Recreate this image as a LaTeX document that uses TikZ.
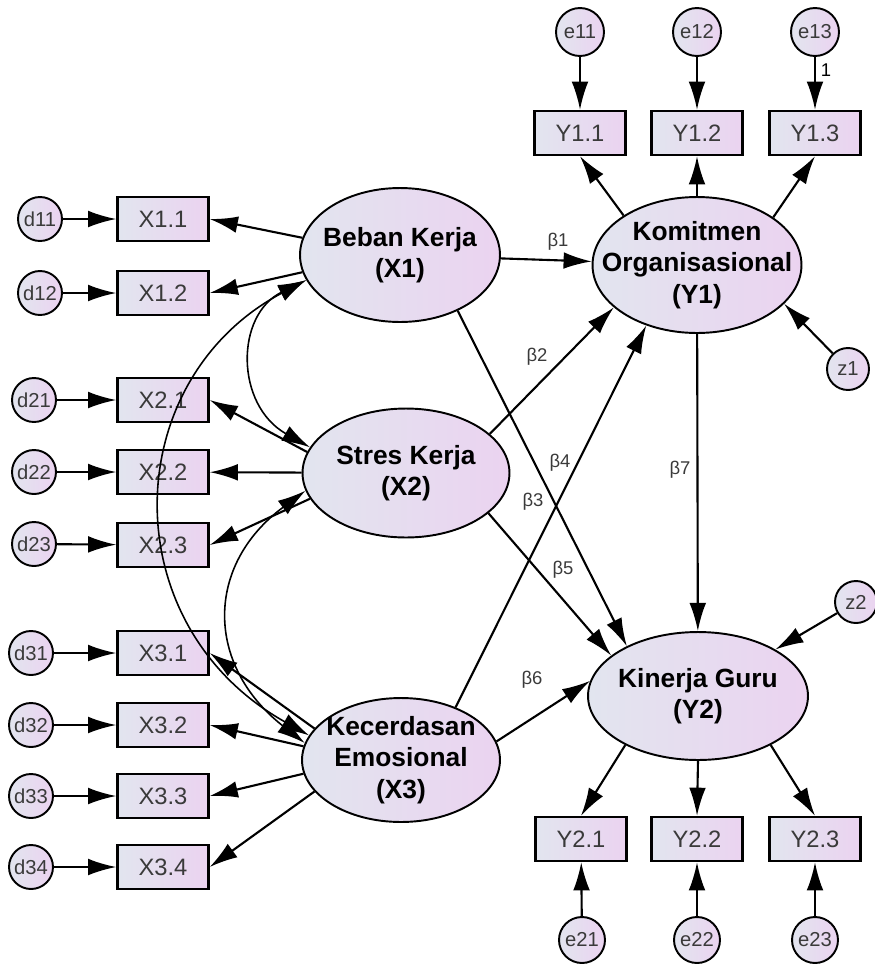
\documentclass[tikz,border=0pt]{standalone}
\usepackage{fontspec}
\setmainfont{Liberation Sans}
\usetikzlibrary{arrows.meta}
\usetikzlibrary{shapes.geometric}
\definecolor{fillleft}{HTML}{E2E5EF}
\definecolor{fillright}{HTML}{EBD3F0}
\definecolor{textgray}{HTML}{3A3A3A}

\begin{document}
\begin{tikzpicture}[x=0.02cm, y=0.02cm,
    obs/.style={draw, line width=1.4pt, left color=fillleft, right color=fillright, minimum width=1.82cm, minimum height=0.88cm, inner sep=0pt, text=textgray, font=\fontsize{13.5}{15}\selectfont},
    lat/.style={draw, ellipse, line width=1.1pt, left color=fillleft, right color=fillright, inner sep=0pt},
    latlab/.style={align=center, inner sep=0pt, font=\fontsize{15}{18}\selectfont\bfseries},
    err/.style={draw, circle, line width=1.1pt, left color=fillleft, right color=fillright, inner sep=0pt, text=textgray, font=\fontsize{11.5}{12}\selectfont},
    reg/.style={-{Latex[length=16pt,width=9.5pt]}, line width=1.2pt},
    cov/.style={{Latex[length=16pt,width=9.5pt]}-{Latex[length=16pt,width=9.5pt]}, line width=0.9pt},
    beta/.style={inner sep=0pt, text=textgray, font=\fontsize{10.5}{11}\selectfont}]

    \useasboundingbox (0,0) rectangle (875,-968);

    \node[lat, minimum width=4cm, minimum height=2.68cm, label={[latlab]center:Beban Kerja\\(X1)}] (X1) at (400,-255) {};
    \node[lat, minimum width=4.14cm, minimum height=2.58cm, label={[latlab]center:Stres Kerja\\(X2)}] (X2) at (406,-473) {};
    \node[lat, minimum width=3.96cm, minimum height=2.48cm, label={[latlab]center:Kecerdasan\\Emosional\\(X3)}] (X3) at (401,-760) {};
    \node[lat, minimum width=4.18cm, minimum height=2.72cm, label={[latlab]center:Komitmen\\Organisasional\\(Y1)}] (Y1) at (697,-265) {};
    \node[lat, minimum width=4.4cm, minimum height=2.56cm, label={[latlab]center:Kinerja Guru\\(Y2)}] (Y2) at (698,-696) {};

    \node[obs] (x11) at (163,-219) {X1.1};
    \node[obs] (x12) at (163,-293) {X1.2};
    \node[obs] (x21) at (163,-400) {X2.1};
    \node[obs] (x22) at (163,-472) {X2.2};
    \node[obs] (x23) at (163,-545) {X2.3};
    \node[obs] (x31) at (163,-653) {X3.1};
    \node[obs] (x32) at (163,-725) {X3.2};
    \node[obs] (x33) at (163,-796) {X3.3};
    \node[obs] (x34) at (163,-867) {X3.4};
    \node[obs] (y11) at (580,-133) {Y1.1};
    \node[obs] (y12) at (697,-133) {Y1.2};
    \node[obs] (y13) at (815,-133) {Y1.3};
    \node[obs] (y21) at (581,-839) {Y2.1};
    \node[obs] (y22) at (697,-839) {Y2.2};
    \node[obs] (y23) at (815,-839) {Y2.3};

    \node[err, minimum size=0.88cm] (d11) at (40,-219) {d11};
    \node[err, minimum size=0.88cm] (d12) at (40,-293) {d12};
    \node[err, minimum size=0.88cm] (d21) at (34,-400) {d21};
    \node[err, minimum size=0.88cm] (d22) at (34,-472) {d22};
    \node[err, minimum size=0.88cm] (d23) at (34,-544) {d23};
    \node[err, minimum size=0.88cm] (d31) at (31,-653) {d31};
    \node[err, minimum size=0.88cm] (d32) at (31,-725) {d32};
    \node[err, minimum size=0.88cm] (d33) at (31,-796) {d33};
    \node[err, minimum size=0.88cm] (d34) at (31,-867) {d34};
    \node[err, minimum size=0.96cm] (e11) at (580,-32) {e11};
    \node[err, minimum size=0.96cm] (e12) at (697,-32) {e12};
    \node[err, minimum size=0.96cm] (e13) at (815,-32) {e13};
    \node[err, minimum size=0.92cm] (e21) at (582,-940) {e21};
    \node[err, minimum size=0.92cm] (e22) at (697,-940) {e22};
    \node[err, minimum size=0.92cm] (e23) at (815,-940) {e23};
    \node[err, minimum size=0.84cm] (z1) at (848,-369) {z1};
    \node[err, minimum size=0.84cm] (z2) at (856,-602) {z2};

    \node[beta] (b1) at (558,-242) {β1};
    \node[beta] (b2) at (537,-357) {β2};
    \node[beta] (b3) at (533,-502) {β3};
    \node[beta] (b4) at (560,-463) {β4};
    \node[beta] (b5) at (563,-570) {β5};
    \node[beta] (b6) at (532,-680) {β6};
    \node[beta] (b7) at (680,-470) {β7};
    \node[beta, text=black] (one) at (826,-70) {1};

    \draw[reg] (d11) -- (x11);
    \draw[reg] (d12) -- (x12);
    \draw[reg] (d21) -- (x21);
    \draw[reg] (d22) -- (x22);
    \draw[reg] (d23) -- (x23);
    \draw[reg] (d31) -- (x31);
    \draw[reg] (d32) -- (x32);
    \draw[reg] (d33) -- (x33);
    \draw[reg] (d34) -- (x34);

    \draw[reg] (X1.170) -- (x11.east);
    \draw[reg] (X1.190) -- (x12.east);
    \draw[reg] (X2.168) -- (x21.east);
    \draw[reg] (X2) -- (x22);
    \draw[reg] (X2.195) -- (x23.east);
    \draw[reg] (X3.160) -- (x31.east);
    \draw[reg] (X3.172) -- (x32.east);
    \draw[reg] (X3.188) -- (x33.east);
    \draw[reg] (X3.200) -- (x34.east);

    \draw[reg] (e11) -- (y11);
    \draw[reg] (e12) -- (y12);
    \draw[reg] (e13) -- (y13);
    \draw[reg] (Y1.146) -- (y11.south);
    \draw[reg] (Y1.north) -- (y12.south);
    \draw[reg] (Y1.32) -- (y13.south);

    \draw[reg] (e21) -- (y21);
    \draw[reg] (e22) -- (y22);
    \draw[reg] (e23) -- (y23);
    \draw[reg] (Y2.214) -- (y21.north);
    \draw[reg] (Y2.south) -- (y22.north);
    \draw[reg] (Y2.-34) -- (y23.north);

    \draw[reg] (z1) -- (Y1.-24);
    \draw[reg] (z2) -- (Y2.31);

    \draw[reg] (X1) -- (Y1);
    \draw[reg] (X2.25) -- (Y1.207);
    \draw[reg] (X3.44) -- (Y1.230);
    \draw[reg] (X1.-44) -- (Y2.145);
    \draw[reg] (X2.-26) -- (Y2.155);
    \draw[reg] (X3.11) -- (Y2.172);
    \draw[reg] (Y1) -- (Y2);

    \draw[cov] (X1.195) .. controls (235,-315) and (235,-405) .. (X2.165);
    \draw[cov] (X2.190) .. controls (205,-565) and (205,-665) .. (X3.170);
    \draw[cov] (X1.195) .. controls (118,-380) and (112,-625) .. (X3.165);

\end{tikzpicture}
\end{document}
